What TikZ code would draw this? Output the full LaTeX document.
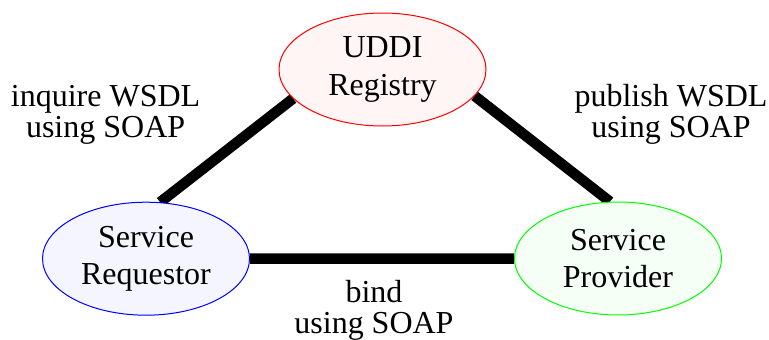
\documentclass[tikz,border=0pt]{standalone}
\usepackage{fontspec}
\setmainfont{Liberation Serif}
\usetikzlibrary{shapes.geometric,backgrounds}
\definecolor{regfill}{HTML}{FFF5F5}
\definecolor{reqfill}{HTML}{F5F5FF}
\definecolor{provfill}{HTML}{F5FFF5}
\begin{document}
\begin{tikzpicture}[x=1pt,y=-1pt,
  party/.style={ellipse, draw, line width=1pt, minimum width=207pt,
    minimum height=113pt, inner sep=0pt, align=center,
    font=\fontsize{32}{37.7}\selectfont},
  link/.style={line width=10.5pt, line cap=butt},
  caption/.style={align=center, inner sep=0pt,
    font=\fontsize{32}{31}\selectfont}]
\useasboundingbox (0,0) rectangle (769,340);

% the three parties
\node[party, draw=red, fill=regfill] (reg) at (382.5,69.5) {UDDI\\Registry};
\node[party, draw=blue, fill=reqfill] (req) at (146,258.7) {Service\\Requestor};
\node[party, draw=green, fill=provfill] (prov) at (618,258.5) {Service\\Provider};

% interactions, kept behind the ellipses
\begin{scope}[on background layer]
  \draw[link] (reg.198) -- (req.76);
  \draw[link] (reg.344) -- (prov.98);
  \draw[link] (req.east) -- (prov.west);
\end{scope}

% interaction captions
\node[caption] (inq) at (105.6,114.5) {inquire WSDL\\using SOAP};
\node[caption] (pub) at (671,114.5) {publish WSDL\\using SOAP};
\node[caption] (bnd) at (374,310.5) {bind\\using SOAP};
\end{tikzpicture}
\end{document}
